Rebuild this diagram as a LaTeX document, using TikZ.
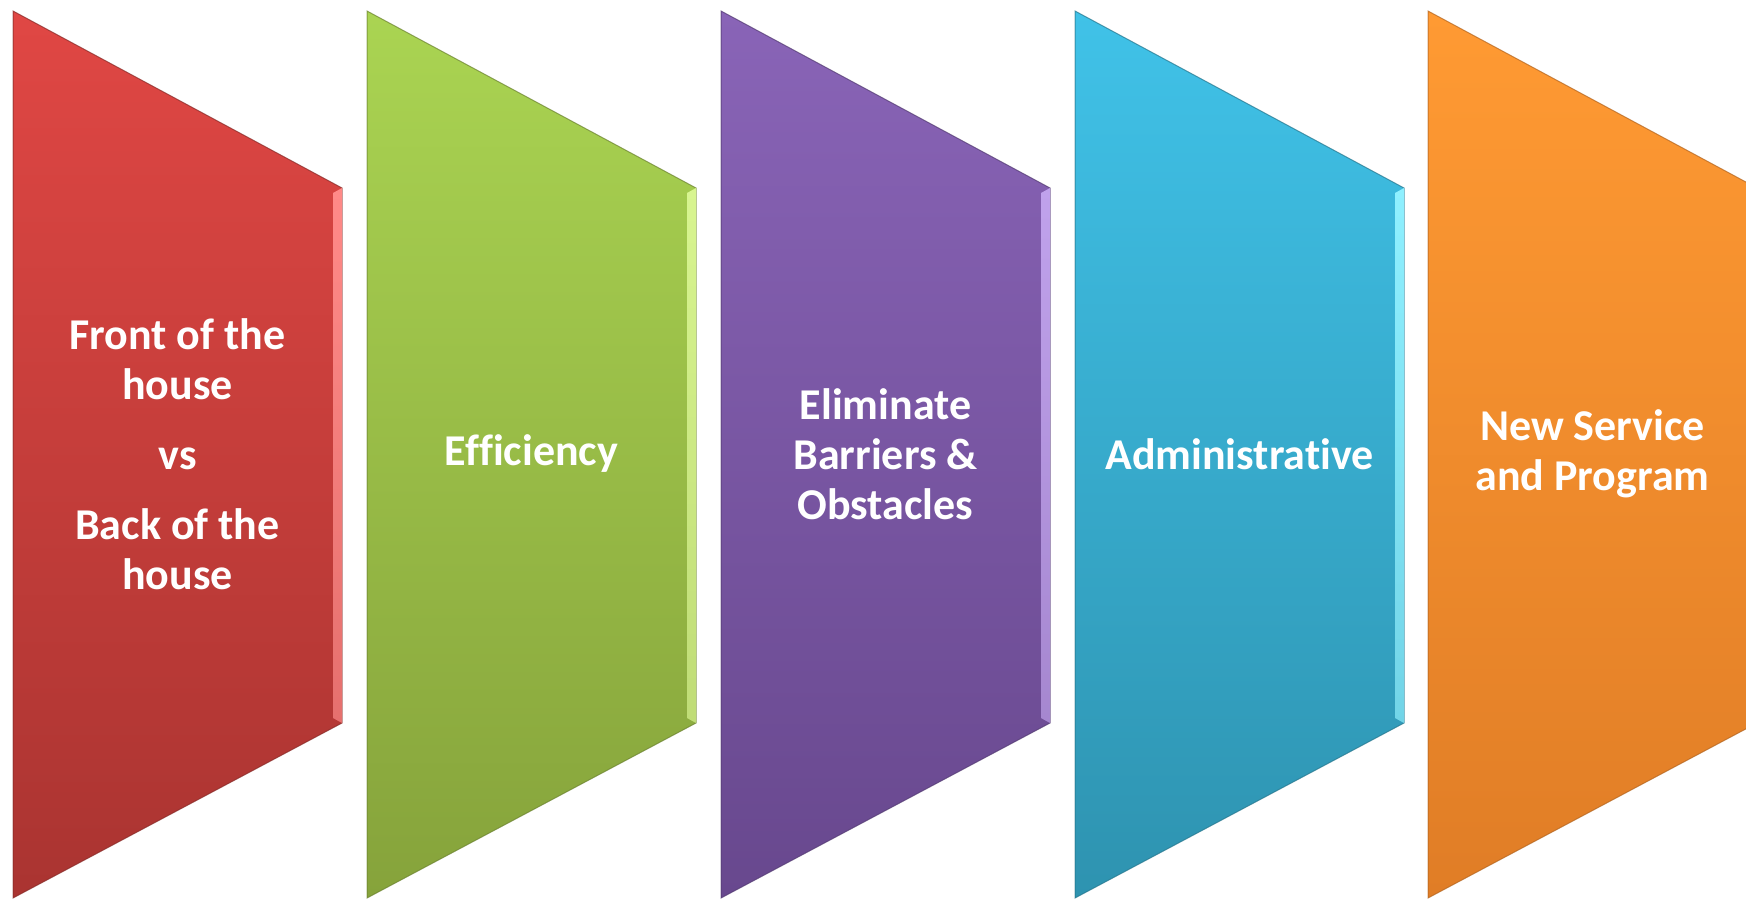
\documentclass[tikz,border=0pt]{standalone}
\usepackage{fontspec}
\setmainfont{Carlito}[Ligatures=NoCommon]
\definecolor{redT}{HTML}{E04744}
\definecolor{redB}{HTML}{AA3431}
\definecolor{redL}{HTML}{FF8A88}
\definecolor{grnT}{HTML}{AAD452}
\definecolor{grnB}{HTML}{86A33B}
\definecolor{grnL}{HTML}{D8F590}
\definecolor{purT}{HTML}{8964B7}
\definecolor{purB}{HTML}{68488E}
\definecolor{purL}{HTML}{C0A2EC}
\definecolor{bluT}{HTML}{40C2E8}
\definecolor{bluB}{HTML}{2E93B0}
\definecolor{bluL}{HTML}{8FF0FF}
\definecolor{oraT}{HTML}{FF9A33}
\definecolor{oraB}{HTML}{E07D26}
\definecolor{oraL}{HTML}{FFC27A}
\tikzset{
  lbl/.style={text=white, align=center, font=\fontsize{44}{50}\selectfont\bfseries, inner sep=0pt},
}
\newcommand{\pentshape}[4]{% #1 left x, #2 top color, #3 bottom color, #4 light
  \begin{scope}[shift={(#1,0)}]
    \shade[top color=#2, bottom color=#3, draw=#3!80!black, draw opacity=0.7, line width=1pt]
      (0,11) -- (329,188) -- (329,723) -- (0,898) -- cycle;
    \shade[top color=#4, bottom color=#4!70!#3]
      (320,193) -- (329,188) -- (329,723) -- (320,718) -- cycle;
  \end{scope}
}
\begin{document}
\begin{tikzpicture}[x=1pt, y=-1pt]
  \useasboundingbox (0,0) rectangle (1746,900);
  \clip (0,0) rectangle (1746,900);
  \fill[white] (0,0) rectangle (1746,900);
  \pentshape{13}{redT}{redB}{redL}
  \pentshape{367}{grnT}{grnB}{grnL}
  \pentshape{721}{purT}{purB}{purL}
  \pentshape{1075}{bluT}{bluB}{bluL}
  \pentshape{1428}{oraT}{oraB}{oraL}
  \node[lbl] (t1) at (177.5,454) {Front of the\\house\\[20pt]vs\\[20pt]Back of the\\house};
  \node[lbl] (t2) at (531.5,454) {Efficiency};
  \node[lbl] (t3) at (885.5,454) {Eliminate\\Barriers \&\\Obstacles};
  \node[lbl] (t4) at (1239.5,454) {Administrative};
  \node[lbl] (t5) at (1592.5,454) {New Service\\and Program};
\end{tikzpicture}
\end{document}
